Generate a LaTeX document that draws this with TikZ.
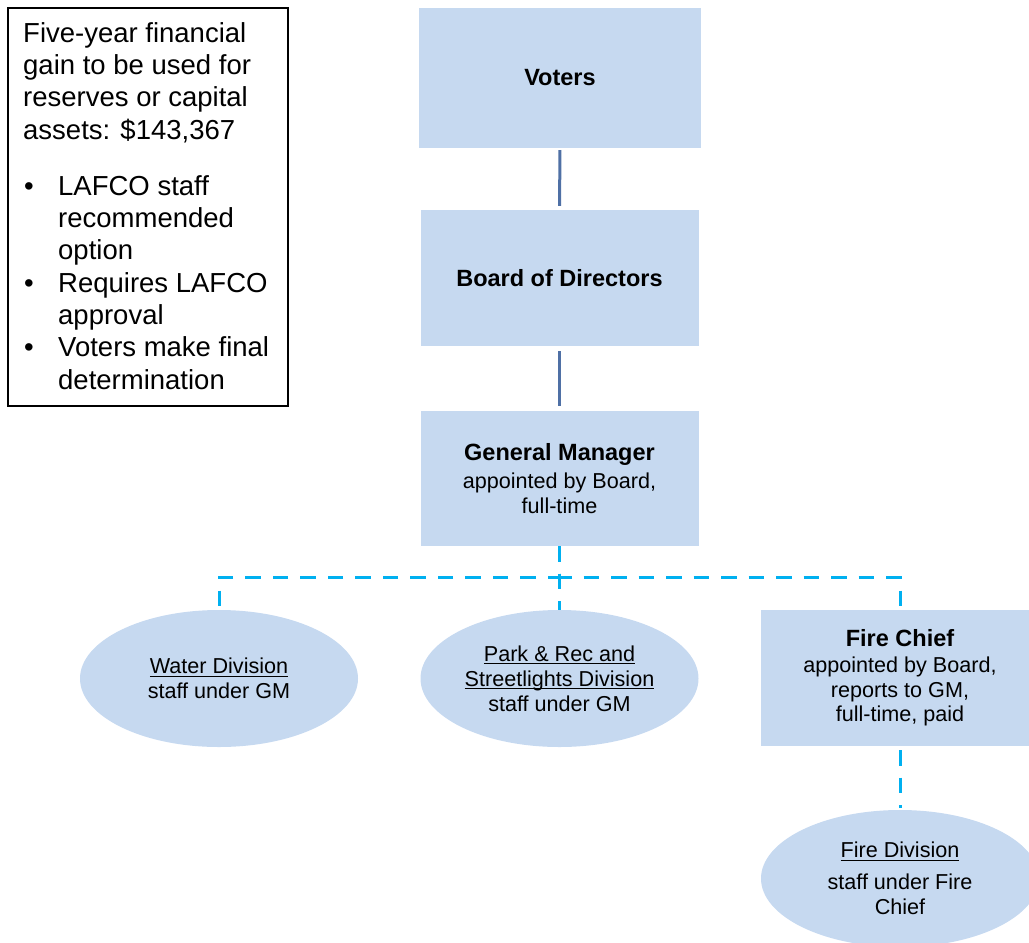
\documentclass[tikz,border=0pt]{standalone}
\usepackage{fontspec}
\setmainfont{Liberation Sans}
\usetikzlibrary{shapes.geometric,calc}
\definecolor{boxfill}{RGB}{198,217,240}
\definecolor{solidblue}{RGB}{79,112,165}
\definecolor{dashcyan}{RGB}{0,176,240}
\newcommand{\rg}{\fontsize{21.6}{24.8}\selectfont}
\newcommand{\bl}{\fontsize{23.5}{25}\selectfont\bfseries}
\tikzset{
  orgbox/.style={rectangle, fill=boxfill, draw=none, minimum width=278pt, minimum height=136pt, inner sep=0pt, align=center, text=black, font=\rg},
  orgell/.style={ellipse, fill=boxfill, draw=none, minimum width=278pt, minimum height=137pt, inner sep=0pt, align=center, text=black, font=\rg},
  solidline/.style={draw=solidblue, line width=3pt},
  dashline/.style={draw=dashcyan, line width=3pt, dash pattern=on 15.5pt off 12pt},
  notebox/.style={rectangle, draw=black, line width=1.4pt, minimum width=280pt, minimum height=398pt, inner sep=0pt},
  notetext/.style={inner sep=0pt, align=left, anchor=north west, font=\fontsize{27.5}{32.3}\selectfont},
}
\newcommand{\bul}{\hspace*{1pt}\makebox[34pt][l]{\textbullet}}
\newcommand{\ind}{\hspace*{35pt}}
\newsavebox{\ulbox}
\newcommand{\ul}[1]{\sbox{\ulbox}{#1}\rlap{\rule[-3pt]{\wd\ulbox}{1pt}}\usebox{\ulbox}}
\begin{document}
\begin{tikzpicture}[x=1pt,y=-1pt]
\useasboundingbox (0,0) rectangle (1029,943);
% note box
\node[notebox] (note) at (148,207) {};
\node[notetext] (notetxt) at (23,22) {Five-year financial\\gain to be used for\\reserves or capital\\assets: \$143,367\\[24pt]
\bul LAFCO staff\\ \ind recommended\\ \ind option\\
\bul Requires LAFCO\\ \ind approval\\
\bul Voters make final\\ \ind determination};
% main boxes
\node[orgbox, minimum width=282pt, minimum height=140pt] (voters) at (560,78) {\bl Voters};
\node[orgbox] (board) at (559.5,278) {\bl Board of Directors};
\node[orgbox, minimum height=135pt] (gm) at (559.5,478.5) {{\bl General Manager}\\[4pt]appointed by Board,\\full-time};
\node[orgbox] (fc) at (900,678) {{\bl Fire Chief}\\[1pt]appointed by Board,\\reports to GM,\\full-time, paid};
\node[orgell] (water) at (219,678.5) {\ul{Water Division}\\staff under GM};
\node[orgell] (park) at (559.5,678.5) {\ul{Park \& Rec and}\\\ul{Streetlights Division}\\staff under GM};
\node[orgell] (firediv) at (900,878.5) {\ul{Fire Division}\\[7pt]staff under Fire\\Chief};
% connectors
\draw[solidline, shorten <=2pt, shorten >=4pt] (voters) -- (board);
\draw[solidline, shorten <=5pt, shorten >=5pt] (board) -- (gm);
\draw[dashline] (gm.south) -- ++(0,31) -| (water.north);
\draw[dashline] (gm.south) -- ++(0,31) -| (fc.north);
\draw[dashline] (gm.south) -- (park.north);
\draw[dashline, shorten <=4pt, shorten >=2pt] (fc) -- (firediv);
\end{tikzpicture}
\end{document}
